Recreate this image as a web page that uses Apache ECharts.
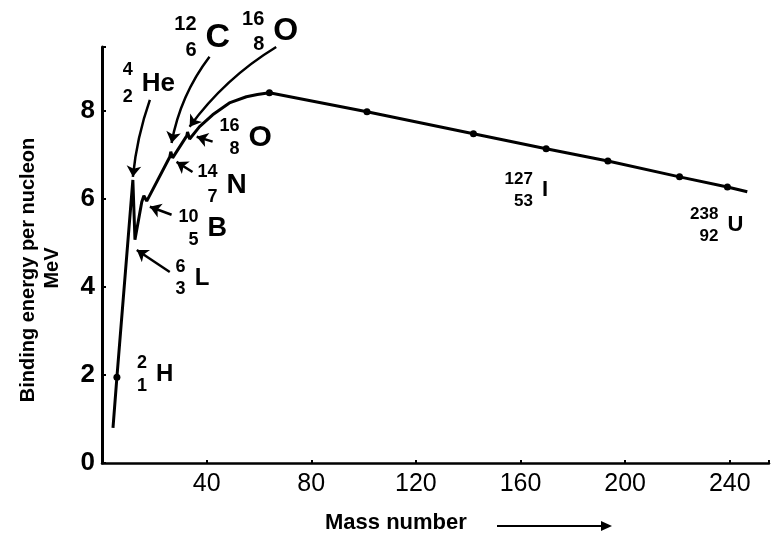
<!DOCTYPE html>
<html>
<head>
<meta charset="utf-8">
<script src="https://cdn.jsdelivr.net/npm/echarts@6/dist/echarts.min.js"></script>
<style>
html,body{margin:0;padding:0;background:#fff;}
#chart{width:772px;height:535px;}
</style>
</head>
<body>
<div id="chart"></div>
<script>
// ---- data ----
const massNumber    = [4.2, 5.7, 11.8, 12.6, 15.2, 16.0, 17.1, 25.9, 26.3, 27.0, 32.4, 32.7, 33.5, 37.3, 42.3, 48.7, 55.2, 59.4, 64.0, 101.3, 142.0, 169.8, 193.4, 220.8, 239.1, 246.7];
const bindingEnergy = [0.80, 1.95, 6.43, 5.07, 5.93, 6.07, 5.95, 6.95, 7.07, 6.93, 7.43, 7.52, 7.36, 7.64, 7.91, 8.18, 8.32, 8.37, 8.41, 7.98, 7.48, 7.14, 6.86, 6.50, 6.27, 6.16];
const dotIndex = [1, 18, 19, 20, 21, 22, 23, 24];

const xTicks = [40, 80, 120, 160, 200, 240];
const yTicks = [0, 2, 4, 6, 8];

const nuclideSymbol   = ['He', 'C', 'O', 'O', 'N', 'B', 'L', 'H', 'I', 'U'];
const nuclideMassNo   = ['4', '12', '16', '16', '14', '10', '6', '2', '127', '238'];
const nuclideAtomicNo = ['2', '6', '8', '8', '7', '5', '3', '1', '53', '92'];
const nuclideX = [13.3, 37.7, 63.6, 54.1, 45.7, 38.4, 33.5, 18.7, 166.3, 237.2];
const nuclideY = [8.61, 9.66, 9.80, 7.39, 6.32, 5.32, 4.20, 2.02, 6.20, 5.41];

const arrowFrom = [[18.3, 8.25], [41.1, 9.23], [66.6, 9.45], [42.3, 7.30], [34.6, 6.61], [26.6, 5.64], [25.9, 4.34]];
const arrowTo   = [[11.8, 6.50], [26.6, 7.27], [33.5, 7.64], [36.2, 7.41], [28.5, 6.84], [18.3, 5.82], [13.3, 4.84]];

// ---- styles (not data) ----
const FONT = "'Liberation Sans', Arial, sans-serif";
const symbolFont = [26, 34, 32, 30, 28, 27, 24, 24, 22, 22];
const numberFont = [18, 20, 20, 18, 18, 18, 18, 18, 17, 17];
const numberLine = [27, 26, 25, 23, 25, 23, 22, 23, 22, 22];
const arrowCurve = [-0.06, -0.12, -0.1, 0, 0, 0, 0];

const chart = echarts.init(document.getElementById('chart'));

const curveData = massNumber.map((x, i) => [x, bindingEnergy[i]]);
const dotData = dotIndex.map(i => [massNumber[i], bindingEnergy[i]]);

const numberData = nuclideX.map((x, i) => ({
  value: [x, nuclideY[i]],
  label: {
    formatter: nuclideMassNo[i] + '\n' + nuclideAtomicNo[i],
    fontSize: numberFont[i],
    lineHeight: numberLine[i]
  }
}));
const symbolData = nuclideX.map((x, i) => ({
  value: [x, nuclideY[i]],
  label: { formatter: nuclideSymbol[i], fontSize: symbolFont[i] }
}));
const arrowData = arrowFrom.map((f, i) => ({
  coords: [f, arrowTo[i]],
  lineStyle: { curveness: arrowCurve[i] }
}));

const option = {
  animation: false,
  backgroundColor: '#fff',
  grid: { left: 102, top: 47, width: 670, height: 416, containLabel: false },
  xAxis: {
    type: 'value', min: 0, max: 255, interval: 40,
    splitLine: { show: false },
    axisLine: { lineStyle: { color: '#000', width: 2.5 } },
    axisTick: { inside: true, length: 3, lineStyle: { color: '#000', width: 2 } },
    axisLabel: {
      color: '#000', fontSize: 25, fontFamily: FONT, margin: 9,
      formatter: v => xTicks.indexOf(v) >= 0 ? String(v) : ''
    }
  },
  yAxis: {
    type: 'value', min: 0, max: 9.45, interval: 2,
    splitLine: { show: false },
    axisLine: { lineStyle: { color: '#000', width: 3 } },
    axisTick: { inside: true, length: 4, lineStyle: { color: '#000', width: 2 } },
    axisLabel: {
      color: '#000', fontSize: 26, fontWeight: 'bold', fontFamily: FONT, margin: 7,
      formatter: v => yTicks.indexOf(v) >= 0 ? String(v) : ''
    }
  },
  series: [
    {
      type: 'line', data: curveData, showSymbol: false, symbol: 'none',
      lineStyle: { color: '#000', width: 3 }, z: 3
    },
    {
      type: 'scatter', data: dotData, symbol: 'circle', symbolSize: 7,
      itemStyle: { color: '#000', opacity: 1 }, z: 4
    },
    {
      type: 'lines', coordinateSystem: 'cartesian2d', data: arrowData,
      symbol: ['none', 'arrow'], symbolSize: 11,
      lineStyle: { color: '#000', width: 2.5, opacity: 1 }, z: 5
    },
    {
      type: 'scatter', data: numberData, symbolSize: 0, clip: false, silent: true,
      itemStyle: { opacity: 1, color: '#000' },
      label: {
        show: true, position: 'left', distance: 4, align: 'right', opacity: 1,
        color: '#000', fontWeight: 'bold', fontFamily: FONT
      }
    },
    {
      type: 'scatter', data: symbolData, symbolSize: 0, clip: false, silent: true,
      itemStyle: { opacity: 1, color: '#000' },
      label: {
        show: true, position: 'right', distance: 5, opacity: 1,
        color: '#000', fontWeight: 'bold', fontFamily: FONT
      }
    }
  ],
  graphic: [
    {
      type: 'text', x: 28, y: 270, rotation: Math.PI / 2,
      style: { text: 'Binding energy per nucleon', fill: '#000', font: 'bold 20px ' + FONT, textAlign: 'center', textVerticalAlign: 'middle' }
    },
    {
      type: 'text', x: 52, y: 268, rotation: Math.PI / 2,
      style: { text: 'MeV', fill: '#000', font: 'bold 20px ' + FONT, textAlign: 'center', textVerticalAlign: 'middle' }
    },
    {
      type: 'text', x: 325, y: 523,
      style: { text: 'Mass number', fill: '#000', font: 'bold 22px ' + FONT, textAlign: 'left', textVerticalAlign: 'middle' }
    },
    {
      type: 'line', shape: { x1: 497, y1: 526, x2: 604, y2: 526 },
      style: { stroke: '#000', lineWidth: 2 }
    },
    {
      type: 'polygon', shape: { points: [[612, 526], [601, 521], [601, 531]] },
      style: { fill: '#000' }
    }
  ]
};
chart.setOption(option);
</script>
</body>
</html>
